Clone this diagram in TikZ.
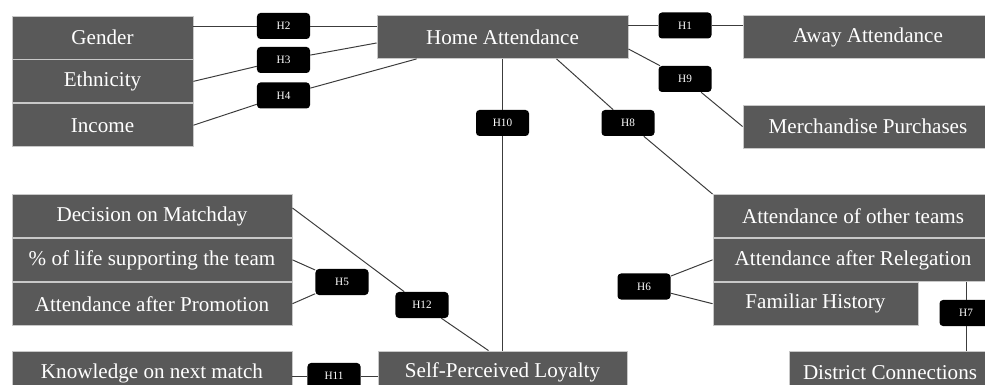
\documentclass[tikz,border=0pt]{standalone}
\usepackage{fontspec}
\setmainfont{Liberation Serif}
\usetikzlibrary{positioning,calc}
\definecolor{boxgray}{HTML}{595959}
\definecolor{rimgray}{HTML}{C8C8C8}
\definecolor{linegray}{HTML}{3C3C3C}

\begin{document}
\begin{tikzpicture}[x=0.025cm,y=-0.025cm,node distance=0pt,
	factor/.style={rectangle,draw=rimgray,line width=0.6pt,fill=boxgray,text=white,
		font=\fontsize{15}{18}\selectfont,minimum height=1.075cm,inner sep=0pt},
	hyp/.style={rectangle,rounded corners=2.5pt,fill=black,text=white,
		font=\fontsize{8}{9}\selectfont,minimum width=1.325cm,minimum height=0.65cm,inner sep=0pt},
	link/.style={linegray,line width=0.7pt}]

	\useasboundingbox (0,0) rectangle (985,385);
	\clip (0,0) rectangle (985,385);

	% left stack
	\node[factor,minimum width=4.525cm] (gender) at (102.5,37.5) {Gender};
	\node[factor,minimum width=4.525cm] (ethnicity) [below=of gender] {Ethnicity};
	\node[factor,minimum width=4.525cm] (income) [below=of ethnicity] {Income};

	\node[factor,minimum width=6.275cm] (home) at (502.5,37) {Home Attendance};
	\node[factor,minimum width=6.25cm] (away) at (868,37) {Away Attendance};
	\node[factor,minimum width=6.25cm] (merch) at (868,126.5) {Merchandise Purchases};

	\node[factor,minimum width=7cm] (decision) at (152,216) {Decision on Matchday};
	\node[factor,minimum width=7cm] (lifetime) [below=of decision] {\% of life supporting the team};
	\node[factor,minimum width=7cm] (promotion) [below=of lifetime] {Attendance after Promotion};
	\node[factor,minimum width=7cm] (knowledge) at (152,373) {Knowledge on next match};
	\node[factor,minimum width=6.225cm] (loyalty) at (502.5,372.5) {Self-Perceived Loyalty};

	\node[factor,minimum width=7cm] (others) at (853,216) {Attendance of other teams};
	\node[factor,minimum width=7cm] (relegation) [below=of others] {Attendance after Relegation};
	\node[factor,minimum width=5.125cm,anchor=north west] (family) at (relegation.south west) {Familiar History};
	\node[factor,minimum width=5.05cm] (district) at (890,373) {District Connections};

	% hypotheses
	\node[hyp] (h1) at (685,25.5) {H1};
	\node[hyp] (h2) at (283.5,26) {H2};
	\node[hyp] (h3) at (283.5,60) {H3};
	\node[hyp] (h4) at (283.5,95.5) {H4};
	\node[hyp] (h5) at (342,282) {H5};
	\node[hyp] (h6) at (644,286.5) {H6};
	\node[hyp] (h7) at (966,313) {H7};
	\node[hyp] (h8) at (628,123) {H8};
	\node[hyp] (h9) at (685,79) {H9};
	\node[hyp] (h10) at (502.5,123) {H10};
	\node[hyp] (h11) at (334,376) {H11};
	\node[hyp] (h12) at (422,305) {H12};

	\coordinate (homeW) at ($(home.west)+(0,6)$);
	\coordinate (homeSW) at ($(home.south west)+(40,0)$);
	\coordinate (homeS) at ($(home.south west)+(180,0)$);
	\coordinate (homeE) at ($(home.east)+(0,12)$);
	\coordinate (decE) at ($(decision.east)+(0,-8)$);
	\coordinate (loyN) at ($(loyalty.north)+(-14,0)$);

	\path[link]
	(gender.east |- h2) edge (h2)
	(h2) edge (home.west |- h2)
	(ethnicity.east) edge (h3)
	(h3) edge (homeW)
	(income.east) edge (h4)
	(h4) edge (homeSW)
	(home.east |- h1) edge (h1)
	(h1) edge (away.west |- h1)
	(homeE) edge (h9)
	(h9) edge (merch.west)
	(homeS) edge (h8)
	(h8) edge (others.north west)
	(home) edge (h10)
	(h10) edge (loyalty)
	(decE) edge (h12)
	(h12) edge (loyN)
	(lifetime.east) edge (h5)
	(promotion.east) edge (h5)
	(knowledge.east |- h11) edge (h11)
	(h11) edge (loyalty.west |- h11)
	(h6) edge (relegation.west)
	(h6) edge (family.west)
	(relegation.south -| h7) edge (h7)
	(h7) edge (district.north -| h7);
\end{tikzpicture}
\end{document}
